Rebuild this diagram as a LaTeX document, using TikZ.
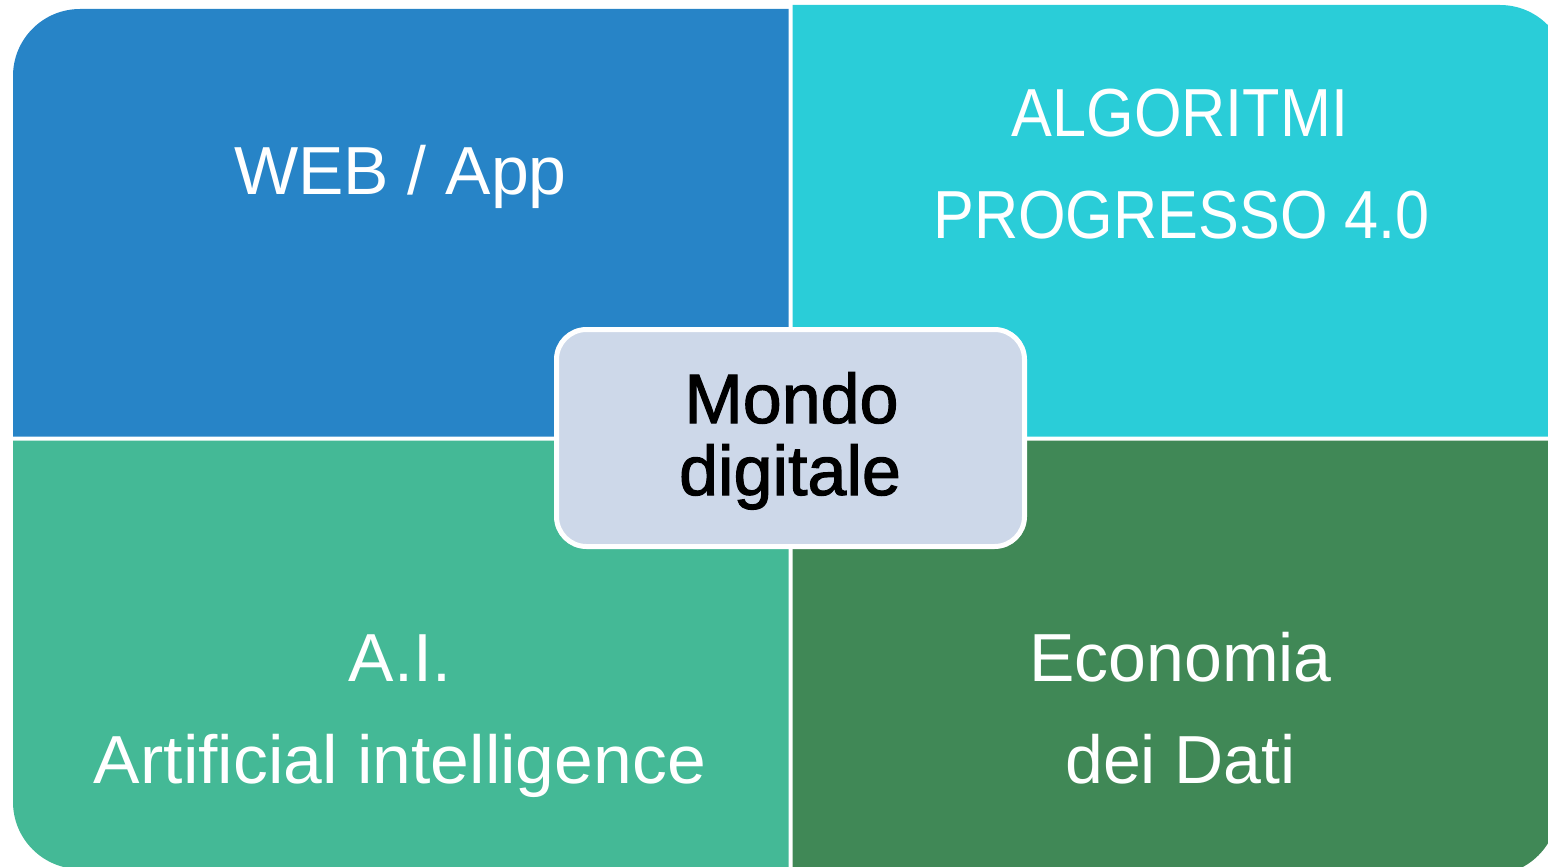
\documentclass[tikz,border=0pt]{standalone}
\usepackage{fontspec}
\setmainfont{Liberation Sans}
\newfontfamily\centerfont[FakeBold=1.6]{Liberation Sans}
\newfontfamily\capsfont[FakeStretch=0.9]{Liberation Sans}
\newfontfamily\widefont[FakeStretch=1.025]{Liberation Sans}
\definecolor{cTL}{RGB}{39,132,199}
\definecolor{cTR}{RGB}{42,205,216}
\definecolor{cBL}{RGB}{68,185,150}
\definecolor{cBR}{RGB}{64,136,86}
\definecolor{cC}{RGB}{205,216,233}
\begin{document}
\begin{tikzpicture}[x=1pt,y=-1pt,
  qtext/.style={anchor=base,inner sep=0pt,text=white,font=\fontsize{68}{80}\selectfont},
  ctext/.style={anchor=base,inner sep=0pt,text=black,font=\centerfont\fontsize{70}{72}\selectfont},
  centerbox/.style={draw=white,line width=5pt,fill=cC,rounded corners=30pt,inner sep=0pt,minimum width=468pt,minimum height=217pt}]
\useasboundingbox (0,0) rectangle (1548,867);
% quadrants
\fill[cTL] (788.5,436.5) -- (13,436.5) -- (13,76) arc[start angle=180,end angle=90,radius=67pt] -- (788.5,9) -- cycle;
\fill[cTR] (792.5,436.5) -- (792.5,5) -- (1500,5) arc[start angle=90,end angle=0,radius=67pt] -- (1567,436.5) -- cycle;
\fill[cBL] (788.5,440.5) -- (13,440.5) -- (13,802) arc[start angle=180,end angle=270,radius=67pt] -- (788.5,869) -- cycle;
\fill[cBR] (792.5,440.5) -- (1558,440.5) -- (1558,808) arc[start angle=0,end angle=-90,radius=67pt] -- (792.5,875) -- cycle;
% quadrant texts
\node[qtext] (web) at (400.5,194) {WEB / App};
\node[qtext,font=\capsfont\fontsize{68}{80}\selectfont] (alg1) at (1180,136) {ALGORITMI};
\node[qtext,font=\capsfont\fontsize{68}{80}\selectfont] (alg2) at (1181.5,238) {PROGRESSO 4.0};
\node[qtext] (ai1) at (400,681) {A.I.};
\node[qtext,font=\widefont\fontsize{68}{80}\selectfont] (ai2) at (400,783) {Artificial intelligence};
\node[qtext] (eco1) at (1180.5,681) {Economia};
\node[qtext] (eco2) at (1180.5,783) {dei Dati};
% center
\node[centerbox] (center) at (790.5,438) {};
\node[ctext] (mondo) at (791.5,423) {Mondo};
\node[ctext] (digitale) at (790,495) {digitale};
\end{tikzpicture}
\end{document}
